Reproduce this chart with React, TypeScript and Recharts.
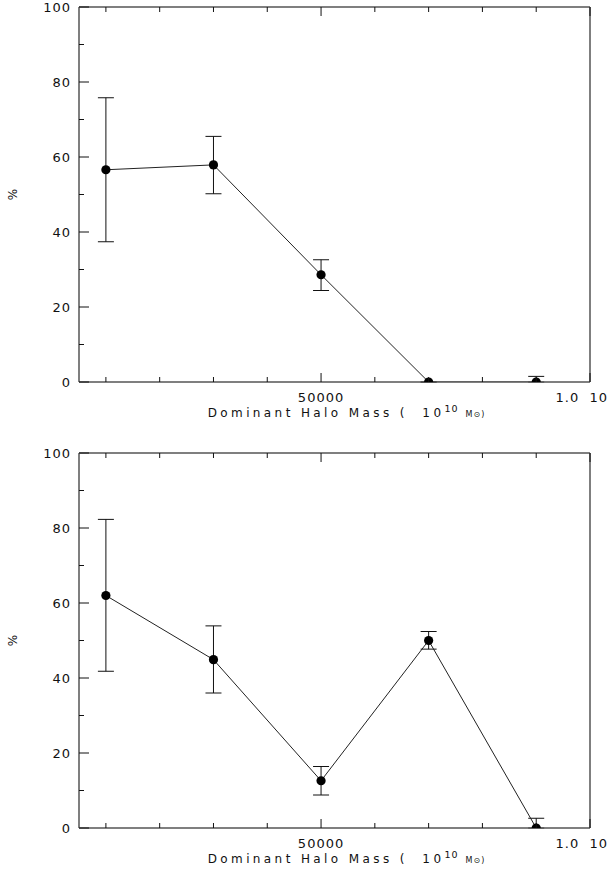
import { LineChart, Line, XAxis, YAxis, ErrorBar } from "recharts";

// halo mass bins (units of 10^10 Msun)
const masses = [10000, 30000, 50000, 70000, 90000];

// upper panel
const topPct = [56.6, 57.9, 28.6, 0, 0];
const topHigh = [75.8, 65.5, 32.6, 0, 1.5];
const topLow = [37.4, 50.2, 24.4, 0, 0];

// lower panel
const botPct = [62.0, 44.9, 12.6, 50.0, 0];
const botHigh = [82.3, 53.9, 16.4, 52.4, 2.6];
const botLow = [41.8, 36.0, 8.8, 47.7, 0];

const xTicks = [10000, 20000, 30000, 40000, 50000, 60000, 70000, 80000, 90000, 100000];
const xMajor = [50000, 100000];
const xLabels: Record<number, string> = { 50000: "50000", 100000: "1.0  10" };
const yTicks = [0, 10, 20, 30, 40, 50, 60, 70, 80, 90, 100];
const yLabels = [0, 20, 40, 60, 80, 100];

const W = 611;
const H = 439;
const FONT = "'DejaVu Sans', sans-serif";
const FRAME = "#555";
const INK = "#111";

function BottomTick({ x, y, payload }: any) {
  const major = xMajor.includes(payload.value);
  const label = xLabels[payload.value];
  const isLast = payload.value === 100000;
  return (
    <g>
      <line x1={x} x2={x} y1={y} y2={y - (major ? 9 : 5)} stroke={INK} />
      {label && (
        <text
          x={isLast ? x + 18 : x}
          y={y + 20}
          textAnchor={isLast ? "end" : "middle"}
          fontFamily={FONT}
          fontSize={13}
          letterSpacing={1}
          fill={INK}
          style={{ whiteSpace: "pre" }}
        >
          {label}
        </text>
      )}
    </g>
  );
}

function TopTick({ x, y, payload }: any) {
  const major = xMajor.includes(payload.value);
  return <line x1={x} x2={x} y1={y} y2={y + (major ? 9 : 5)} stroke={INK} />;
}

function LeftTick({ x, y, payload }: any) {
  const major = yLabels.includes(payload.value);
  return (
    <g>
      <line x1={x} x2={x + (major ? 10 : 5)} y1={y} y2={y} stroke={INK} />
      {major && (
        <text x={x - 8} y={y + 5} textAnchor="end" fontFamily={FONT} fontSize={13} letterSpacing={1} fill={INK}>
          {payload.value}
        </text>
      )}
    </g>
  );
}

function RightTick({ x, y, payload }: any) {
  const major = yLabels.includes(payload.value);
  return <line x1={x} x2={x - (major ? 10 : 5)} y1={y} y2={y} stroke={INK} />;
}

function XTitle({ viewBox }: any) {
  const cx = viewBox.x + viewBox.width / 2 + 12;
  const by = viewBox.y + 35;
  return (
    <text x={cx} y={by} textAnchor="middle" fontFamily={FONT} fontSize={12} fill={INK} letterSpacing={3.4} style={{ whiteSpace: "pre" }}>
      <tspan>Dominant Halo Mass (  10</tspan>
      <tspan fontSize={9.5} dy={-5} letterSpacing={1}>10</tspan>
      <tspan fontSize={8} dy={5} letterSpacing={1}>{"  M\u2299)"}</tspan>
    </text>
  );
}

function YTitle({ viewBox }: any) {
  const x = 13;
  const y = viewBox.y + viewBox.height / 2;
  return (
    <text x={x} y={y} transform={`rotate(-90 ${x} ${y})`} textAnchor="middle" dominantBaseline="central" fontFamily={FONT} fontSize={12} fill={INK}>
      %
    </text>
  );
}

function Dot({ cx, cy }: any) {
  if (cx == null || cy == null) return null;
  return <circle cx={cx} cy={cy} r={4.6} fill="#000" />;
}

function Panel({ pct, high, low, topH, bottomH }: { pct: number[]; high: number[]; low: number[]; topH: number; bottomH: number }) {
  const data = masses.map((m, i) => ({
    mass: m,
    pct: pct[i],
    err: [pct[i] - low[i], high[i] - pct[i]],
  }));
  return (
    <LineChart width={W} height={H} data={data} margin={{ top: 0, right: 0, bottom: 0, left: 0 }}>
      <XAxis
        xAxisId="b"
        dataKey="mass"
        type="number"
        domain={[5000, 100000]}
        ticks={xTicks}
        interval={0}
        height={bottomH}
        allowDataOverflow
        tickSize={0}
        tickMargin={0}
        tickLine={false}
        tick={<BottomTick />}
        axisLine={{ stroke: FRAME, strokeWidth: 1.5 }}
        label={<XTitle />}
      />
      <XAxis
        xAxisId="t"
        orientation="top"
        dataKey="mass"
        type="number"
        domain={[5000, 100000]}
        ticks={xTicks}
        interval={0}
        height={topH}
        tickSize={0}
        tickMargin={0}
        tickLine={false}
        tick={<TopTick />}
        axisLine={{ stroke: FRAME, strokeWidth: 1.5 }}
      />
      <YAxis
        yAxisId="l"
        type="number"
        domain={[0, 100]}
        ticks={yTicks}
        interval={0}
        width={79}
        allowDataOverflow
        tickSize={0}
        tickMargin={0}
        tickLine={false}
        tick={<LeftTick />}
        axisLine={{ stroke: FRAME, strokeWidth: 1.5 }}
        label={<YTitle />}
      />
      <YAxis
        yAxisId="r"
        orientation="right"
        type="number"
        domain={[0, 100]}
        ticks={yTicks}
        interval={0}
        width={21}
        tickSize={0}
        tickMargin={0}
        tickLine={false}
        tick={<RightTick />}
        axisLine={{ stroke: FRAME, strokeWidth: 1.5 }}
      />
      <Line
        xAxisId="b"
        yAxisId="l"
        type="linear"
        dataKey="pct"
        stroke="#222"
        strokeWidth={1}
        dot={<Dot />}
        activeDot={false}
        isAnimationActive={false}
      >
        <ErrorBar dataKey="err" width={8} stroke="#111" strokeWidth={1} direction="y" />
      </Line>
    </LineChart>
  );
}

export default function App() {
  return (
    <div style={{ position: "absolute", left: 0, top: 0, width: W, height: 878, background: "#fff" }}>
      <Panel pct={topPct} high={topHigh} low={topLow} topH={7} bottomH={57} />
      <Panel pct={botPct} high={botHigh} low={botLow} topH={14} bottomH={50} />
    </div>
  );
}
